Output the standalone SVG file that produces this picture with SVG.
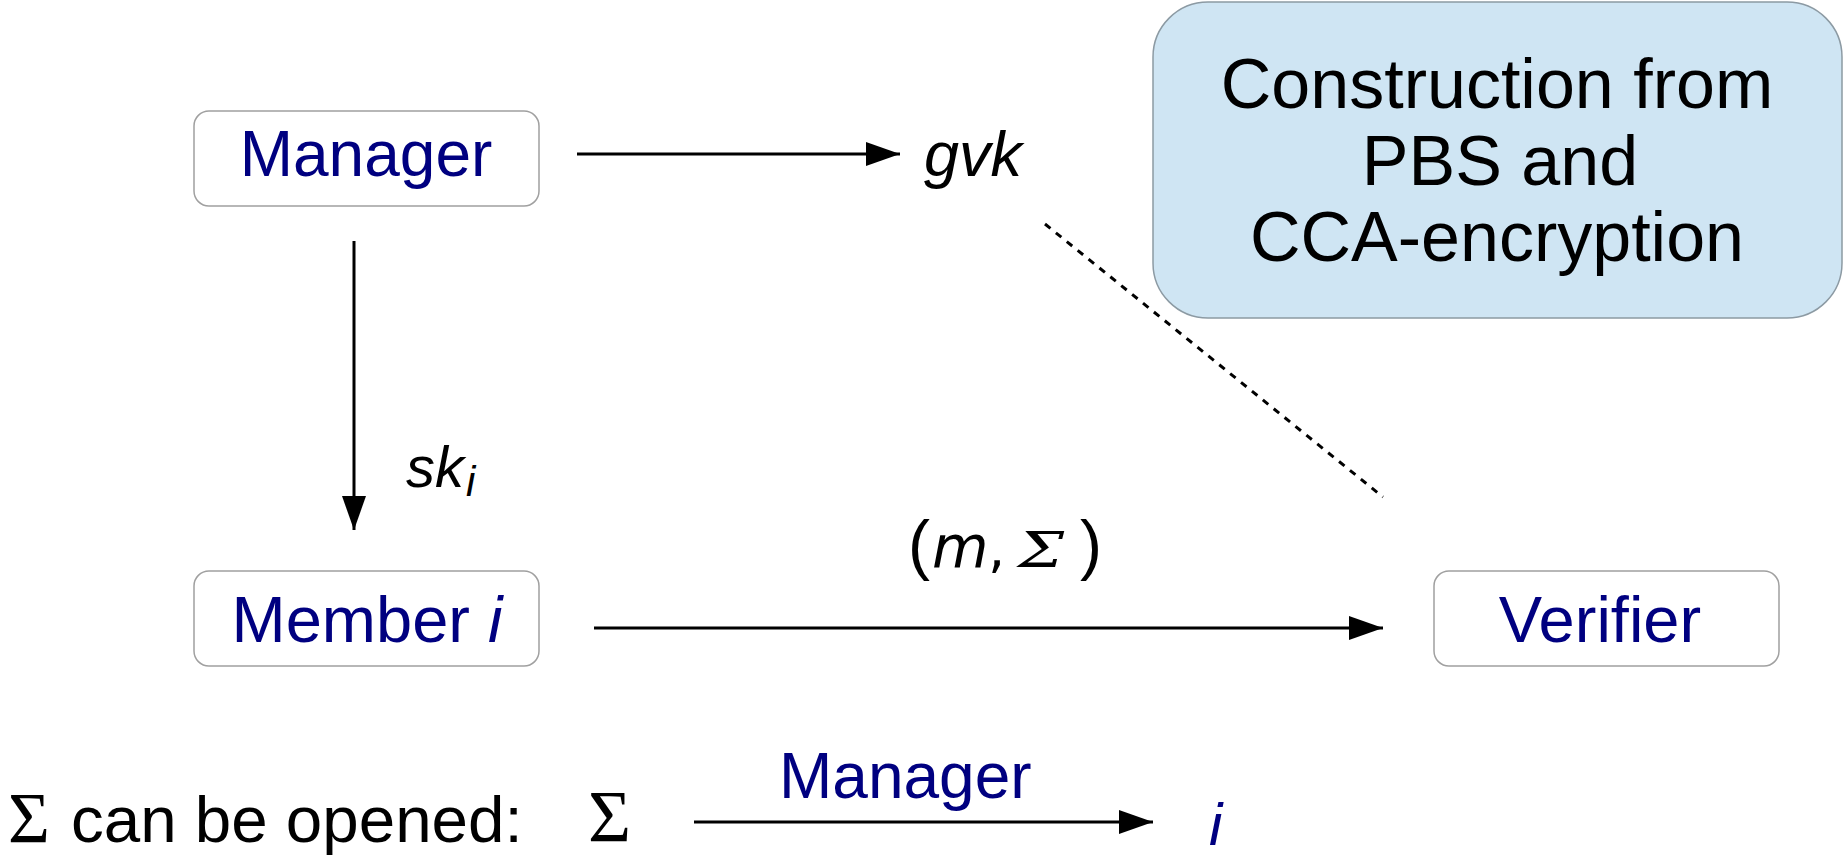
<svg xmlns="http://www.w3.org/2000/svg" width="1845" height="855" viewBox="0 0 1845 855">
  <style>
    .node { fill: #ffffff; stroke: #a0a0a0; stroke-width: 1.5; }
    .note { fill: #cfe5f3; stroke: #8c9aa3; stroke-width: 1.5; }
    .lbl { font-family: "Liberation Sans", Arial, sans-serif; fill: #000080; }
    .txt { font-family: "Liberation Sans", Arial, sans-serif; fill: #000000; }
    .sym { font-family: "Liberation Serif", "Times New Roman", serif; fill: #000000; }
    .math { font-family: "DejaVu Sans", sans-serif; fill: #000000; }
    .mathsym { font-family: "DejaVu Serif", serif; fill: #000000; }
    .edge { stroke: #000000; stroke-width: 3; fill: none; }
    .dash { stroke: #000000; stroke-width: 3; fill: none; stroke-dasharray: 7 7; }
  </style>
  <defs>
    <marker id="head" markerUnits="userSpaceOnUse" markerWidth="34" markerHeight="24" refX="34" refY="12" orient="auto">
      <path d="M0,0 L34,12 L0,24 Z" fill="#000000"/>
    </marker>
  </defs>

  <rect width="1845" height="855" fill="#ffffff"/>

  <!-- connectors -->
  <g id="connectors">
    <line class="edge" x1="577" y1="154" x2="900" y2="154" marker-end="url(#head)"/>
    <line class="edge" x1="354" y1="241" x2="354" y2="530" marker-end="url(#head)"/>
    <line class="edge" x1="594" y1="628" x2="1383" y2="628" marker-end="url(#head)"/>
    <line class="dash" x1="1045" y1="224" x2="1383" y2="497"/>
    <line class="edge" x1="694" y1="822" x2="1153" y2="822" marker-end="url(#head)"/>
  </g>

  <!-- edge labels -->
  <g id="edge-labels">
    <text class="txt" x="924" y="176" font-size="63" font-style="italic">gvk</text>
    <text class="txt" x="406" y="487" font-size="58" font-style="italic">sk<tspan font-size="42" dx="2" dy="9">i</tspan></text>
    <g id="message-label">
      <text class="txt" x="908" y="567" font-size="66">(</text>
      <text class="math" x="932" y="567" font-size="58" font-style="italic">m</text>
      <text class="math" x="988" y="567" font-size="54">,</text>
      <text class="mathsym" x="1018" y="567" font-size="48" font-style="italic" textLength="46" lengthAdjust="spacingAndGlyphs">Σ</text>
      <text class="txt" x="1080" y="567" font-size="66">)</text>
    </g>
  </g>

  <!-- nodes -->
  <g id="manager">
    <rect class="node" x="194" y="111" width="345" height="95" rx="15"/>
    <text class="lbl" x="366" y="176" font-size="64" text-anchor="middle">Manager</text>
  </g>

  <g id="member">
    <rect class="node" x="194" y="571" width="345" height="95" rx="15"/>
    <text class="lbl" x="367" y="642" font-size="65" text-anchor="middle">Member <tspan font-style="italic">i</tspan></text>
  </g>

  <g id="verifier">
    <rect class="node" x="1434" y="571" width="345" height="95" rx="15"/>
    <text class="lbl" x="1600" y="642" font-size="65" text-anchor="middle">Verifier</text>
  </g>

  <g id="construction-note">
    <rect class="note" x="1153" y="2" width="689" height="316" rx="55"/>
    <text class="txt" font-size="70" text-anchor="middle"><tspan x="1497" y="108">Construction from</tspan><tspan x="1500" y="185">PBS and</tspan><tspan x="1497" y="261">CCA-encryption</tspan></text>
  </g>

  <!-- opening statement -->
  <g id="opening">
    <text class="sym" x="8" y="842" font-size="72">Σ</text>
    <text class="txt" x="71" y="842" font-size="65.5">can be opened:</text>
    <text class="sym" x="588" y="842" font-size="74">Σ</text>
    <text class="lbl" x="779" y="798" font-size="64">Manager</text>
    <text class="lbl" x="1209" y="845" font-size="60" font-style="italic">i</text>
  </g>
</svg>
